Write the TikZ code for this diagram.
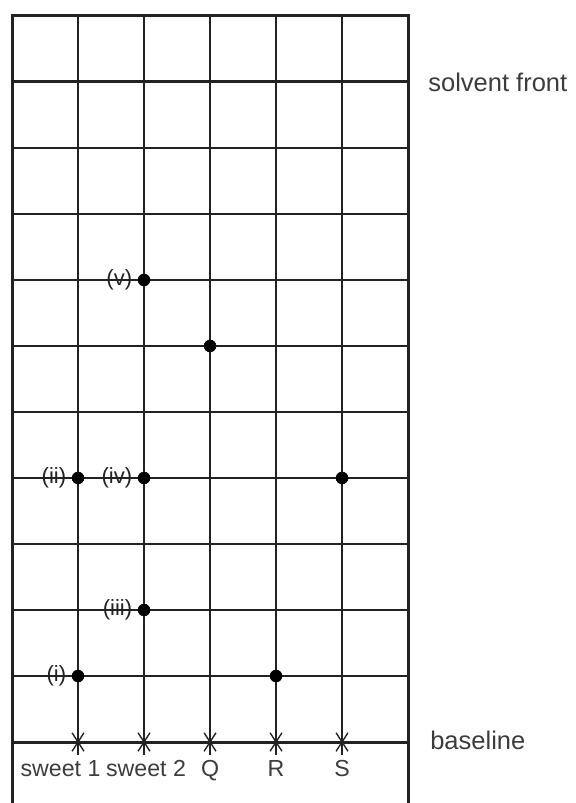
\documentclass[tikz,border=0pt]{standalone}
\usepackage{fontspec}
\setsansfont{Liberation Sans}
\usetikzlibrary{positioning}
\definecolor{ink}{HTML}{222222}
\definecolor{ink2}{HTML}{3C3C3C}

\begin{document}
\begin{tikzpicture}[
  font=\sffamily,
  frame/.style={draw=ink,line width=1.3pt},
  gridline/.style={draw=ink,line width=0.6pt},
  spot/.style={circle,fill=black,inner sep=0pt,minimum size=0.19cm},
  spotlabel/.style={font=\sffamily\fontsize{9.5}{10}\selectfont,text=ink,inner sep=1pt},
  lane/.style={font=\sffamily\fontsize{10}{12}\selectfont,text=ink2,inner sep=0pt,anchor=base},
  side/.style={font=\sffamily\fontsize{11}{13}\selectfont,text=ink2,inner sep=0pt,anchor=base west}
]
\useasboundingbox (-0.182,-0.924) rectangle (8.530,11.242);

% grid of the plate
\foreach \y in {1,...,9} \draw[gridline] (0,\y) -- (6,\y);
\foreach \x in {1,...,5} {
  \draw[gridline] (\x,11) -- (\x,-0.2);
  \draw[gridline] (\x-0.09,0.14) -- (\x+0.09,-0.14) (\x-0.09,-0.14) -- (\x+0.09,0.14);
}
\draw[frame] (0,-0.93) -- (0,11) -- (6,11) -- (6,-0.93);
\draw[frame] (0,10) -- (6,10);
\draw[frame] (0,0) -- (6,0);

% spots
\node[spot] (v) at (2,7) {};
\node[spot] (q) at (3,6) {};
\node[spot] (ii) at (1,4) {};
\node[spot] (iv) at (2,4) {};
\node[spot] (s) at (5,4) {};
\node[spot] (iii) at (2,2) {};
\node[spot] (i) at (1,1) {};
\node[spot] (r) at (4,1) {};

\node[spotlabel,left=1pt of v] {(v)};
\node[spotlabel,left=1pt of ii] {(ii)};
\node[spotlabel,left=1pt of iv] {(iv)};
\node[spotlabel,left=1pt of iii] {(iii)};
\node[spotlabel,left=1pt of i] {(i)};

% lanes and side labels
\node[lane] (sweetA) at (0.735,-0.53) {sweet 1};
\node[lane] (sweetB) at (2.03,-0.53) {sweet 2};
\node[lane] (laneQ) at (3,-0.53) {Q};
\node[lane] (laneR) at (4,-0.53) {R};
\node[lane] (laneS) at (5,-0.53) {S};

\node[side] (front) at (6.3,9.85) {solvent front};
\node[side] (base) at (6.33,-0.11) {baseline};

\end{tikzpicture}
\end{document}
